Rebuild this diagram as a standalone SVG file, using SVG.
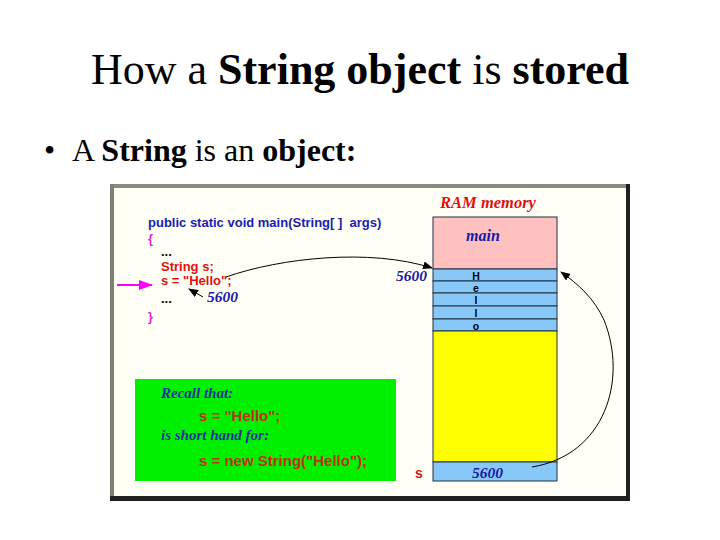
<svg xmlns="http://www.w3.org/2000/svg" width="720" height="540" viewBox="0 0 720 540">
<style>
.title{font-family:"Liberation Serif",serif;font-size:44px;fill:#000}
.bul{font-family:"Liberation Serif",serif;font-size:32px;fill:#000}
.b{font-weight:bold}
.code{font-family:"Liberation Sans",Arial,sans-serif;font-weight:bold;font-size:13px;white-space:pre}
.gcode{font-family:"Liberation Sans",Arial,sans-serif;font-weight:bold;font-size:15px;fill:#c03010}
.gtxt{font-family:"Liberation Serif",serif;font-style:italic;font-weight:bold;font-size:15px;fill:#1a30a0}
.num{font-family:"Liberation Serif",serif;font-style:italic;font-weight:bold;font-size:15.5px;fill:#1a1aa8}
.cell{stroke:#203040;stroke-width:1}
.ch{font-family:"Liberation Sans",Arial,sans-serif;font-weight:bold;font-size:10.5px;fill:#000}
.conn{fill:none;stroke:#000;stroke-width:1}
</style>
<defs>
<marker id="ah" markerWidth="10" markerHeight="8" refX="9" refY="4" orient="auto" markerUnits="userSpaceOnUse">
<path d="M0,0 L10,4 L0,8 Z" fill="#000"/>
</marker>
<marker id="mh" markerWidth="14" markerHeight="10" refX="13" refY="5" orient="auto" markerUnits="userSpaceOnUse">
<path d="M0,0 L14,5 L0,10 Z" fill="#ff00ff"/>
</marker>
</defs>
<rect width="720" height="540" fill="#fff"/>
<text class="title" x="360" y="84" text-anchor="middle">How a <tspan class="b">String</tspan> <tspan class="b">object</tspan> is <tspan class="b">stored</tspan></text>
<text class="bul" x="44" y="161">•</text>
<text class="bul" x="72" y="161">A <tspan class="b">String</tspan> is an <tspan class="b">object:</tspan></text>

<g id="frame">
<rect x="110" y="184" width="520" height="317" fill="#fffff6"/>
<rect x="110" y="184" width="516" height="4" fill="#8a8a78"/>
<rect x="110" y="184" width="4" height="312" fill="#808070"/>
<rect x="626" y="184" width="4" height="317" fill="#202020"/>
<rect x="110" y="496" width="520" height="5" fill="#202020"/>
</g>

<g id="code">
<text class="code" x="148" y="227" fill="#1c1cb0" xml:space="preserve">public static void main(String[ ]  args)</text>
<text class="code" x="148" y="243" fill="#e020e0">{</text>
<text class="code" x="161" y="256" fill="#000">...</text>
<text class="code" x="161" y="271" fill="#e01010">String s;</text>
<text class="code" x="161" y="285" fill="#e01010">s = "Hello";</text>
<text class="code" x="161" y="303" fill="#000">...</text>
<text class="code" x="148" y="321" fill="#e020e0">}</text>
<text class="num" x="207" y="302">5600</text>
</g>

<g id="memory">
<text x="488" y="208" text-anchor="middle" font-family="Liberation Serif,serif" font-style="italic" font-weight="bold" font-size="16.5" fill="#e01010">RAM memory</text>
<rect class="cell" x="433" y="217" width="124" height="52" fill="#ffc0c0"/>
<text x="483" y="241" text-anchor="middle" font-family="Liberation Serif,serif" font-style="italic" font-weight="bold" font-size="16" fill="#1a1aa8">main</text>
<rect class="cell" x="433" y="269" width="124" height="12" fill="#88c8f8"/>
<rect class="cell" x="433" y="281" width="124" height="12" fill="#88c8f8"/>
<rect class="cell" x="433" y="293" width="124" height="13" fill="#88c8f8"/>
<rect class="cell" x="433" y="306" width="124" height="13" fill="#88c8f8"/>
<rect class="cell" x="433" y="319" width="124" height="12" fill="#88c8f8"/>
<text class="ch" x="476" y="280" text-anchor="middle">H</text>
<text class="ch" x="476" y="292" text-anchor="middle">e</text>
<text class="ch" x="476" y="304" text-anchor="middle">l</text>
<text class="ch" x="476" y="317" text-anchor="middle">l</text>
<text class="ch" x="476" y="330" text-anchor="middle">o</text>
<rect class="cell" x="433" y="331" width="124" height="131" fill="#ffff00"/>
<rect class="cell" x="433" y="462" width="124" height="19" fill="#88c8f8"/>
<text class="num" x="472" y="478">5600</text>
<text class="num" x="396" y="281">5600</text>
<text x="415" y="478" font-family="Liberation Sans,Arial,sans-serif" font-weight="bold" font-size="14" fill="#e01010">s</text>
</g>

<g id="recall">
<rect x="135" y="379" width="261" height="102" fill="#00f000"/>
<text class="gtxt" x="161" y="398">Recall that:</text>
<text class="gcode" x="199" y="421">s = "Hello";</text>
<text class="gtxt" x="161" y="440">is short hand for:</text>
<text class="gcode" x="199" y="466">s = new String("Hello");</text>
</g>

<g id="connectors">
<line x1="117" y1="285" x2="152" y2="285" stroke="#ff00ff" stroke-width="2" marker-end="url(#mh)"/>
<path class="conn" d="M226,277 C280,258 370,248 432,268" marker-end="url(#ah)"/>
<line class="conn" x1="203" y1="297" x2="189" y2="289" marker-end="url(#ah)"/>
<path class="conn" d="M532,467 C605,455 628,380 604,320 C594,298 578,284 561,272" marker-end="url(#ah)"/>
</g>
</svg>
